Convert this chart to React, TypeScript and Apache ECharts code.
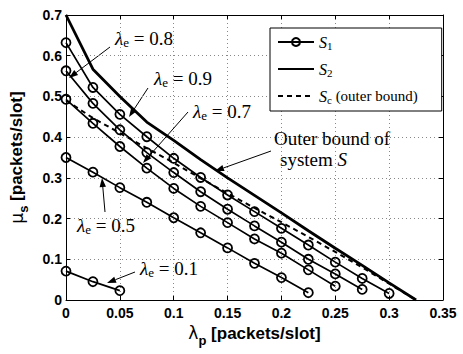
import React, { useEffect, useRef } from "react";
import * as echarts from "echarts";

const lambdaP = [0, 0.025, 0.05, 0.075, 0.1, 0.125, 0.15, 0.175, 0.2, 0.225, 0.25, 0.275, 0.3, 0.325];
const xTicks = [0, 0.05, 0.1, 0.15, 0.2, 0.25, 0.3, 0.35];
const yTicks = [0, 0.1, 0.2, 0.3, 0.4, 0.5, 0.6, 0.7];

const s1E01 = [0.071, 0.045, 0.023];
const s1E05 = [0.35, 0.314, 0.276, 0.24, 0.202, 0.165, 0.128, 0.09, 0.055, 0.018];
const s1E07 = [0.493, 0.434, 0.377, 0.324, 0.274, 0.23, 0.19, 0.15, 0.115, 0.074, 0.034];
const s1E08 = [0.563, 0.483, 0.418, 0.362, 0.313, 0.266, 0.223, 0.182, 0.142, 0.1, 0.064, 0.026];
const s1E09 = [0.632, 0.522, 0.456, 0.401, 0.348, 0.301, 0.258, 0.217, 0.176, 0.135, 0.093, 0.053, 0.016];
const s2Outer = [0.7, 0.567, 0.5, 0.437, 0.392, 0.345, 0.3, 0.257, 0.214, 0.17, 0.127, 0.085, 0.042, 0.0];
const scOuter = [0.49, 0.447, 0.41, 0.373, 0.337, 0.299, 0.262, 0.226, 0.191, 0.155, 0.118, 0.08, 0.04, 0.0];

const s1Curves = [s1E01, s1E05, s1E07, s1E08, s1E09];

const pairs = (ys: number[]) => ys.map((y, i) => [lambdaP[i], y]);

const SERIF = "'Liberation Serif', 'DejaVu Serif', serif";
const SANS = "'Liberation Sans', Arial, sans-serif";

function arrow(x1: number, y1: number, x2: number, y2: number) {
  const dx = x2 - x1, dy = y2 - y1;
  const L = Math.hypot(dx, dy);
  const ux = dx / L, uy = dy / L;
  const hl = 9, hw = 3.2;
  const bx = x2 - ux * hl, by = y2 - uy * hl;
  return [
    { type: "line", shape: { x1, y1, x2: bx, y2: by }, style: { stroke: "#000", lineWidth: 1 }, silent: true },
    {
      type: "polygon",
      shape: { points: [[x2, y2], [bx - uy * hw, by + ux * hw], [bx + uy * hw, by - ux * hw]] },
      style: { fill: "#000" },
      silent: true,
    },
  ];
}

const annRich = {
  l: { fontFamily: SERIF, fontSize: 19, fontStyle: "italic", fill: "#000" },
  e: { fontFamily: SERIF, fontSize: 13, fill: "#000", padding: [9, 0, 0, 0] },
  n: { fontFamily: SERIF, fontSize: 19, fill: "#000" },
  s: { fontFamily: SERIF, fontSize: 19, fontStyle: "italic", fill: "#000" },
};

function label(text: string, x: number, y: number, align = "center") {
  return {
    type: "text",
    x,
    y,
    silent: true,
    style: { text, rich: annRich, align, verticalAlign: "middle", fill: "#000", fontFamily: SERIF, fontSize: 19 },
  };
}

export default function App() {
  const ref = useRef<HTMLDivElement>(null);
  useEffect(() => {
    document.body.style.margin = "0";
    const chart = echarts.init(ref.current!, null, { renderer: "svg" });
    const fmt = (v: number) => String(parseFloat(v.toFixed(2)));
    const axisCommon = {
      axisLine: { show: true, onZero: false, lineStyle: { color: "#000", width: 1 } },
      axisTick: { show: true, inside: true, length: 4, lineStyle: { color: "#000" } },
    };
    const s1Series = s1Curves.map((c) => ({
      name: "S1",
      type: "line",
      data: pairs(c),
      symbol: "circle",
      symbolSize: 9,
      showSymbol: true,
      lineStyle: { color: "#000", width: 1.7 },
      itemStyle: { color: "transparent", borderColor: "#000", borderWidth: 1.8 },
      z: 3,
    }));
    const option: any = {
      animation: false,
      backgroundColor: "#fff",
      grid: { left: 61, right: 20, top: 15, bottom: 54, containLabel: false },
      xAxis: [
        {
          type: "value",
          min: 0,
          max: 0.35,
          interval: 0.05,
          ...axisCommon,
          axisLabel: { formatter: fmt, color: "#000", fontFamily: SANS, fontWeight: "bold", fontSize: 14, margin: 6 },
          splitLine: { show: true, lineStyle: { color: "#888", type: [1, 3], width: 1 } },
          name: "{g|λ}{sub|p}{b| [packets/slot]}",
          nameLocation: "middle",
          nameGap: 18,
          nameTextStyle: {
            rich: {
              g: { fontFamily: "'DejaVu Sans', sans-serif", fontSize: 17, color: "#000" },
              sub: { fontFamily: SANS, fontWeight: "bold", fontSize: 13, color: "#000", padding: [14, 0, 0, 0] },
              b: { fontFamily: SANS, fontWeight: "bold", fontSize: 17, color: "#000" },
            },
          },
        },
        {
          type: "value",
          position: "top",
          min: 0,
          max: 0.35,
          interval: 0.05,
          ...axisCommon,
          axisLabel: { show: false },
          splitLine: { show: false },
        },
      ],
      yAxis: [
        {
          type: "value",
          min: 0,
          max: 0.7,
          interval: 0.1,
          ...axisCommon,
          axisLabel: { formatter: fmt, color: "#000", fontFamily: SANS, fontWeight: "bold", fontSize: 14, margin: 4 },
          splitLine: { show: true, lineStyle: { color: "#888", type: [1, 3], width: 1 } },
          name: "{g|μ}{sub|s}{b| [packets/slot]}",
          nameLocation: "middle",
          nameGap: 36,
          nameRotate: 90,
          nameTextStyle: {
            rich: {
              g: { fontFamily: "'DejaVu Sans', sans-serif", fontSize: 17, color: "#000" },
              sub: { fontFamily: SANS, fontWeight: "bold", fontSize: 13, color: "#000", padding: [14, 0, 0, 0] },
              b: { fontFamily: SANS, fontWeight: "bold", fontSize: 17, color: "#000" },
            },
          },
        },
        {
          type: "value",
          position: "right",
          min: 0,
          max: 0.7,
          interval: 0.1,
          ...axisCommon,
          axisLabel: { show: false },
          splitLine: { show: false },
        },
      ],
      legend: {
        orient: "vertical",
        left: 270,
        top: 28,
        width: 167,
        data: [
          { name: "S1", itemStyle: { color: "transparent", borderColor: "#000", borderWidth: 2 } },
          { name: "S2", itemStyle: { opacity: 0 } },
          { name: "Sc", itemStyle: { opacity: 0 } },
        ],
        backgroundColor: "#fff",
        borderColor: "#000",
        borderWidth: 1,
        borderRadius: 0,
        padding: [6, 24, 6, 7],
        itemWidth: 36,
        itemHeight: 10,
        itemGap: 10,
        selectedMode: false,
        formatter: (name: string) =>
          name === "S1" ? "{s|S}{b|1}" : name === "S2" ? "{s|S}{b|2}" : "{s|S}{b|c}{n| (outer bound)}",
        textStyle: {
          color: "#000",
          fontFamily: SERIF,
          fontSize: 15,
          rich: {
            s: { fontFamily: SERIF, fontSize: 16, fontStyle: "italic", color: "#000" },
            b: { fontFamily: SERIF, fontSize: 11, color: "#000", padding: [7, 0, 0, 0] },
            n: { fontFamily: SERIF, fontSize: 15, color: "#000" },
          },
        },
      },
      series: [
        ...s1Series,
        {
          name: "S2",
          type: "line",
          data: pairs(s2Outer),
          showSymbol: false,
          symbol: "none",
          lineStyle: { color: "#000", width: 2.8 },
          itemStyle: { color: "#000" },
          z: 4,
        },
        {
          name: "Sc",
          type: "line",
          data: pairs(scOuter),
          showSymbol: false,
          symbol: "none",
          lineStyle: { color: "#000", width: 2, type: [5, 4] },
          itemStyle: { color: "#000" },
          z: 2,
        },
      ],
      graphic: [
        ...arrow(110, 47, 69, 78),
        ...arrow(148, 88, 129, 117),
        ...arrow(188, 112, 143, 163),
        ...arrow(105, 212, 102, 178),
        ...arrow(135, 272, 107, 283),
        ...arrow(271, 151, 215, 171),
        label("{l|λ}{e|e}{n| = 0.8}", 144, 38),
        label("{l|λ}{e|e}{n| = 0.9}", 183, 78),
        label("{l|λ}{e|e}{n| = 0.7}", 222, 111),
        label("{l|λ}{e|e}{n| = 0.5}", 106, 225),
        label("{l|λ}{e|e}{n| = 0.1}", 169, 268),
        label("{n|Outer bound of}", 274, 138, "left"),
        label("{n|system }{s|S}", 280, 159, "left"),
      ],
    };
    chart.setOption(option);
    return () => chart.dispose();
  }, []);
  return <div ref={ref} style={{ width: 463, height: 354 }} />;
}
